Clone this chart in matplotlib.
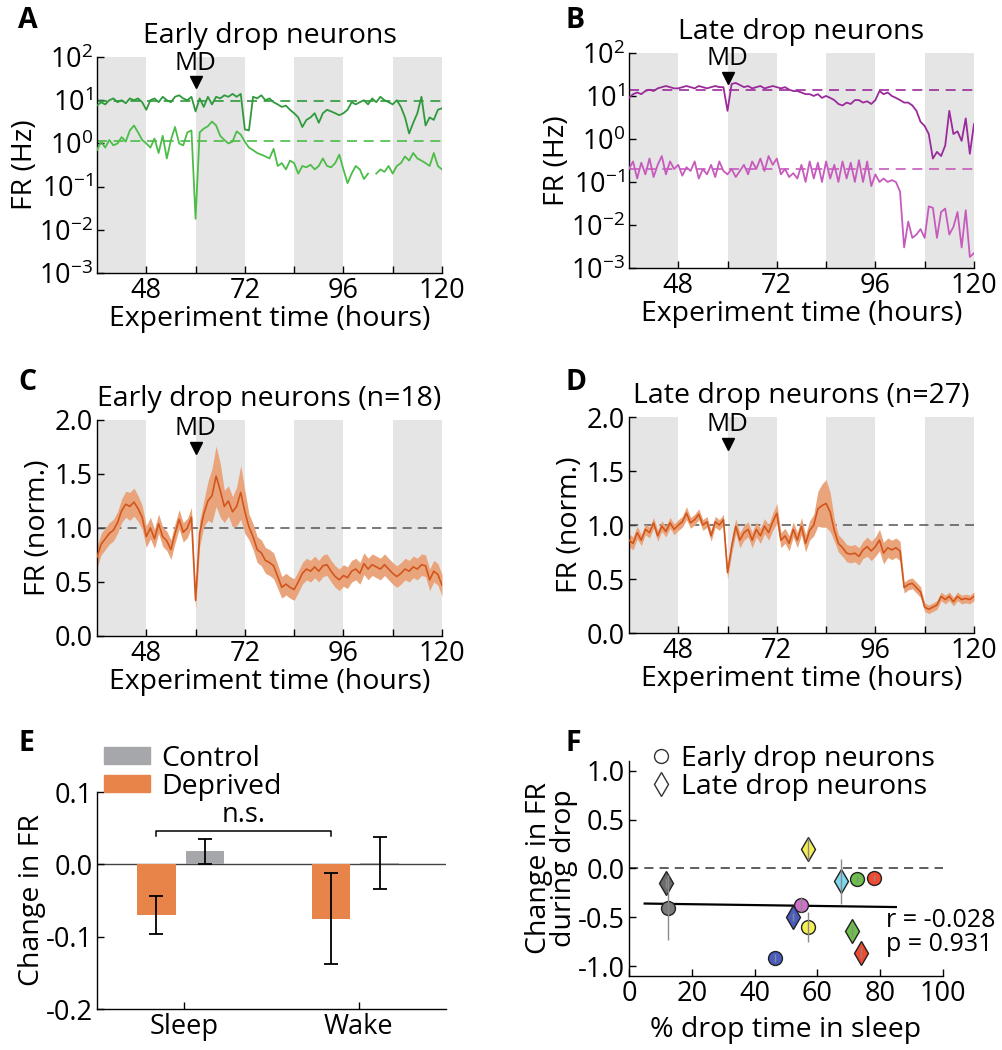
import numpy as np
import matplotlib
matplotlib.use('Agg')
import matplotlib.pyplot as plt
from matplotlib.lines import Line2D
from matplotlib.patches import Patch
from matplotlib.ticker import FormatStrFormatter

plt.rcParams['font.family'] = ['Open Sans', 'DejaVu Sans']
plt.rcParams['mathtext.fontset'] = 'custom'
plt.rcParams['mathtext.rm'] = 'Open Sans'
plt.rcParams['axes.unicode_minus'] = False
plt.rcParams['axes.linewidth'] = 1.0

# 实验时间 (每小时一个点)
hours = np.arange(36, 121)
night_starts = [36, 60, 84, 108]
md_time = 60

# A: 早期下降神经元 (Hz)
early_hi = [7.5, 9, 8, 10, 11, 9, 10, 8.5, 11, 10, 11, 9, 6, 10, 11, 9, 12, 10, 9, 12,
            13, 11, 10, 12, 5.5, 11, 7, 12, 8, 12, 11, 13, 12, 14, 12, 14, 2.1, 2.0, 12, 11,
            13, 10, 11, 9, 8, 7, 7.5, 6, 5, 4, 2.4, 3.5, 4, 5, 3, 5, 6, 5.5, 5, 4.5,
            5, 6, 9, 8, 9, 10, 8, 11, 9, 12, 10, 9, 8, 10, 7, 4, 1.7, 3, 5, 12,
            2.6, 4, 3.5, 6, 6.5]
early_lo = [0.7, 1.1, 0.8, 1.2, 0.9, 1.0, 1.4, 1.1, 2.0, 2.6, 1.8, 1.2, 1.0, 0.8, 1.3, 0.6, 1.5, 0.45, 1.2, 2.4,
            1.0, 0.9, 1.8, 2.0, 0.018, 1.8, 2.2, 2.5, 3.2, 2.6, 1.5, 1.2, 1.0, 1.1, 1.9, 1.6, 1.1, 0.8, 0.7, 0.6,
            0.55, 0.5, 0.45, 0.75, 0.3, 0.35, 0.25, 0.4, 0.35, 0.2, 0.3, 0.28, 0.32, 0.25, 0.3, 0.45, 0.3, 0.28, 0.35, 0.55,
            0.25, 0.12, 0.2, 0.3, 0.25, 0.15, 0.2, np.nan, 0.2, 0.25, 0.22, 0.3, 0.2, 0.3, 0.35, 0.5, 0.4, 0.6, 0.45, 0.4,
            0.35, 0.3, 0.6, 0.3, 0.25]
early_base = [9.4, 1.15]

# B: 晚期下降神经元 (Hz)
late_hi = [9, 11, 12, 11, 13, 14, 13, 15, 16, 17, 16, 15, 15, 16, 17, 16, 15, 17, 16, 15,
           16, 17, 16, 16, 4.5, 19, 20, 18, 16, 17, 15, 16, 17, 15, 16, 17, 16, 15, 16, 14,
           13, 13, 12, 11, 11, 10, 11, 9, 10, 9, 8, 6.5, 6, 7, 6.5, 8, 8, 7, 7.5, 6.5,
           8, 13, 11, 12, 10, 9, 8, 7, 7, 6, 4.5, 2.5, 2.0, 1.3, 0.35, 0.5, 0.4, 0.7, 4.5, 1.3,
           1.5, 0.9, 3.0, 0.45, 2.2]
late_lo = [0.2, 0.3, 0.12, 0.28, 0.15, 0.35, 0.13, 0.25, 0.4, 0.15, 0.3, 0.2, 0.25, 0.14, 0.22, 0.18, 0.3, 0.12, 0.2, 0.15,
           0.25, 0.13, 0.3, 0.18, 0.15, 0.2, 0.13, 0.18, 0.25, 0.15, 0.3, 0.2, 0.35, 0.18, 0.4, 0.25, 0.35, 0.15, 0.2, 0.13,
           0.16, 0.12, 0.25, 0.1, 0.3, 0.12, 0.28, 0.1, 0.3, 0.12, 0.25, 0.1, 0.3, 0.12, 0.28, 0.1, 0.32, 0.1, 0.3, 0.08,
           0.15, 0.1, 0.12, 0.1, 0.11, 0.1, 0.06, 0.003, 0.012, 0.005, 0.006, 0.008, 0.005, 0.027, 0.025, 0.005, 0.02, 0.024, 0.006, 0.009,
           0.02, 0.003, 0.022, 0.0018, 0.0022]
late_base = [14, 0.195]

# C: 早期下降 平均值 ± SEM
early_mean = [0.73, 0.85, 0.90, 0.95, 0.98, 1.05, 1.16, 1.22, 1.20, 1.24, 1.18, 1.10, 0.92, 1.00, 0.90, 1.04, 0.92, 0.88, 0.80, 0.95,
              1.08, 0.96, 1.00, 1.10, 0.33, 0.95, 1.13, 1.25, 1.30, 1.48, 1.35, 1.20, 1.25, 1.15, 1.20, 1.33, 1.15, 1.01, 0.92, 0.80,
              0.77, 0.70, 0.68, 0.65, 0.55, 0.45, 0.48, 0.45, 0.43, 0.50, 0.58, 0.62, 0.60, 0.64, 0.60, 0.65, 0.66, 0.60, 0.55, 0.52,
              0.56, 0.54, 0.60, 0.62, 0.58, 0.67, 0.62, 0.66, 0.64, 0.62, 0.66, 0.62, 0.58, 0.55, 0.58, 0.62, 0.60, 0.64, 0.62, 0.66,
              0.65, 0.52, 0.60, 0.57, 0.47]
early_sem = [0.10, 0.10, 0.10, 0.10, 0.10, 0.10, 0.11, 0.12, 0.13, 0.13, 0.12, 0.11, 0.10, 0.10, 0.09, 0.09, 0.09, 0.09, 0.09, 0.09,
             0.09, 0.09, 0.09, 0.09, 0.08, 0.12, 0.12, 0.18, 0.25, 0.28, 0.25, 0.15, 0.14, 0.14, 0.18, 0.25, 0.20, 0.12, 0.12, 0.12,
             0.12, 0.12, 0.12, 0.12, 0.11, 0.10, 0.10, 0.10, 0.10, 0.10, 0.10, 0.10, 0.10, 0.10, 0.10, 0.10, 0.10, 0.10, 0.10, 0.10,
             0.10, 0.10, 0.10, 0.10, 0.10, 0.10, 0.10, 0.10, 0.10, 0.10, 0.10, 0.10, 0.10, 0.10, 0.10, 0.10, 0.10, 0.10, 0.10, 0.10,
             0.10, 0.10, 0.10, 0.10, 0.10]

# D: 晚期下降 平均值 ± SEM
late_mean = [0.86, 0.83, 0.93, 0.86, 0.96, 0.93, 1.02, 0.90, 0.99, 0.94, 1.02, 0.96, 1.00, 1.03, 1.11, 1.02, 1.05, 1.10, 1.00, 1.03,
             0.90, 1.03, 1.00, 1.05, 0.56, 0.80, 0.99, 0.86, 0.93, 0.96, 0.86, 0.96, 0.90, 0.99, 0.93, 1.03, 1.11, 0.86, 0.90, 0.83,
             0.96, 0.86, 0.99, 0.83, 0.95, 1.00, 1.15, 1.18, 1.20, 1.12, 0.95, 0.83, 0.79, 0.74, 0.73, 0.74, 0.71, 0.77, 0.80, 0.76,
             0.80, 0.86, 0.74, 0.79, 0.77, 0.79, 0.76, 0.42, 0.45, 0.46, 0.42, 0.38, 0.24, 0.22, 0.24, 0.26, 0.34, 0.31, 0.34, 0.29,
             0.34, 0.31, 0.32, 0.31, 0.34]
late_sem = [0.06, 0.06, 0.06, 0.05, 0.05, 0.05, 0.05, 0.05, 0.05, 0.05, 0.05, 0.05, 0.05, 0.05, 0.06, 0.05, 0.05, 0.05, 0.05, 0.05,
            0.05, 0.05, 0.05, 0.05, 0.06, 0.07, 0.07, 0.07, 0.07, 0.07, 0.07, 0.07, 0.07, 0.07, 0.07, 0.08, 0.09, 0.07, 0.07, 0.07,
            0.07, 0.07, 0.08, 0.08, 0.09, 0.10, 0.16, 0.20, 0.22, 0.18, 0.10, 0.08, 0.08, 0.08, 0.08, 0.08, 0.08, 0.08, 0.09, 0.09,
            0.09, 0.10, 0.10, 0.09, 0.09, 0.09, 0.09, 0.05, 0.05, 0.05, 0.05, 0.05, 0.04, 0.04, 0.04, 0.04, 0.04, 0.04, 0.04, 0.04,
            0.04, 0.04, 0.04, 0.04, 0.04]

# E: 睡眠/清醒 中的FR变化
states = ['Sleep', 'Wake']
deprived_mean = [-0.070, -0.075]
deprived_err = [0.026, 0.063]
control_mean = [0.018, 0.002]
control_err = [0.017, 0.036]

# F: 每个动物
early_x = [12.4, 54.9, 57.0, 46.5, 72.7, 77.9]
early_y = [-0.40, -0.37, -0.60, -0.915, -0.11, -0.10]
early_e = [0.33, 0.08, 0.15, 0.04, 0.03, 0.03]
early_c = ['#7a7a7a', '#d070c8', '#f4ee55', '#4a5cc0', '#6cc04a', '#f04a30']
late_x = [11.9, 52.2, 57.0, 67.6, 71.0, 74.0]
late_y = [-0.15, -0.50, 0.20, -0.13, -0.64, -0.86]
late_e = [0.05, 0.04, 0.11, 0.23, 0.06, 0.06]
late_c = ['#6a6a6a', '#4a5cc0', '#f4ee55', '#7dd8ee', '#6cc04a', '#f04a30']

FS = 19.5   # 刻度
LS = 20.5   # 轴标签/标题
GRAY_BAND = '#e5e5e5'

fig = plt.figure(figsize=(10.02, 10.5), dpi=100)


def time_axis(ax):
    for s in night_starts:
        ax.axvspan(s, s + 12, color=GRAY_BAND, lw=0, zorder=0)
    ax.set_xlim(36, 120)
    ax.set_xticks([48, 60, 72, 84, 96, 108, 120])
    ax.set_xticklabels(['48', '', '72', '', '96', '', '120'])
    ax.spines['top'].set_visible(False)
    ax.spines['right'].set_visible(False)
    ax.tick_params(direction='in', labelsize=FS, length=5, width=1, pad=3)
    ax.tick_params(which='minor', direction='in', length=3)
    ax.set_xlabel('Experiment time (hours)', fontsize=LS, labelpad=0)


def md_mark(ax, ytext, ytri):
    tr = ax.get_xaxis_transform()
    ax.text(md_time, ytext, 'MD', transform=tr, ha='center', va='center', fontsize=FS - 1)
    ax.plot([md_time], [ytri], marker='v', color='k', ms=9, transform=tr, clip_on=False)


def log_axis(ax):
    ax.set_yscale('log')
    ax.set_ylim(1e-3, 1e2)
    ax.set_yticks([1e-3, 1e-2, 1e-1, 1e0, 1e1, 1e2])
    ax.set_yticklabels([r'$10^{-3}$', r'$10^{-2}$', r'$10^{-1}$', r'$10^{0}$', r'$10^{1}$', r'$10^{2}$'])
    ax.set_ylabel('FR (Hz)', fontsize=LS, labelpad=0)


def norm_axis(ax):
    ax.set_ylim(0, 2)
    ax.set_yticks([0, 0.5, 1.0, 1.5, 2.0])
    ax.yaxis.set_major_formatter(FormatStrFormatter('%.1f'))
    ax.set_ylabel('FR (norm.)', fontsize=LS, labelpad=2)
    ax.axhline(1.0, color='#555555', lw=1.1, ls=(0, (6, 4)), zorder=2)


# ---- A
axA = fig.add_axes([0.0968, 0.740, 0.3443, 0.2057])
time_axis(axA)
log_axis(axA)
axA.plot(hours, early_hi, color='#2f9a3c', lw=1.3, zorder=3)
axA.plot(hours, early_lo, color='#4cbd48', lw=1.3, zorder=3)
axA.axhline(early_base[0], color='#2f9a3c', lw=1.2, ls=(0, (6, 4)), zorder=2)
axA.axhline(early_base[1], color='#4cbd48', lw=1.2, ls=(0, (6, 4)), zorder=2)
axA.set_title('Early drop neurons', fontsize=LS, pad=10)
md_mark(axA, 0.97, 0.885)

# ---- B
axB = fig.add_axes([0.6277, 0.7448, 0.3443, 0.2048])
time_axis(axB)
log_axis(axB)
axB.plot(hours, late_hi, color='#9b2a9b', lw=1.3, zorder=3)
axB.plot(hours, late_lo, color='#c75bbd', lw=1.3, zorder=3)
axB.axhline(late_base[0], color='#9b2a9b', lw=1.2, ls=(0, (6, 4)), zorder=2)
axB.axhline(late_base[1], color='#c75bbd', lw=1.2, ls=(0, (6, 4)), zorder=2)
axB.set_title('Late drop neurons', fontsize=LS, pad=10)
md_mark(axB, 0.975, 0.885)

# ---- C
axC = fig.add_axes([0.0968, 0.3943, 0.3443, 0.2057])
time_axis(axC)
norm_axis(axC)
m = np.array(early_mean)
s = np.array(early_sem)
axC.fill_between(hours, m - s, m + s, color='#eaa47c', lw=0, zorder=2)
axC.plot(hours, m, color='#d2561c', lw=1.2, zorder=3)
axC.set_title('Early drop neurons (n=18)', fontsize=LS, pad=10)
md_mark(axC, 0.96, 0.87)

# ---- D
axD = fig.add_axes([0.6277, 0.3971, 0.3443, 0.2057])
time_axis(axD)
norm_axis(axD)
m = np.array(late_mean)
s = np.array(late_sem)
axD.fill_between(hours, m - s, m + s, color='#eaa47c', lw=0, zorder=2)
axD.plot(hours, m, color='#d2561c', lw=1.2, zorder=3)
axD.set_title('Late drop neurons (n=27)', fontsize=LS, pad=10)
md_mark(axD, 0.965, 0.877)

# ---- E
axE = fig.add_axes([0.0968, 0.039, 0.3483, 0.2067])
pos = np.array([1, 2])
axE.bar(pos - 0.16, deprived_mean, width=0.22, color='#e8844a', zorder=2)
axE.bar(pos + 0.12, control_mean, width=0.22, color='#a6a7ab', zorder=2)
axE.errorbar(pos - 0.16, deprived_mean, yerr=deprived_err, fmt='none', ecolor='k',
             elinewidth=1.3, capsize=5, capthick=1.3, zorder=3)
axE.errorbar(pos + 0.12, control_mean, yerr=control_err, fmt='none', ecolor='k',
             elinewidth=1.3, capsize=5, capthick=1.3, zorder=3)
axE.axhline(0, color='#444444', lw=1.0, zorder=1)
axE.plot([pos[0] - 0.16, pos[0] - 0.16, pos[1] - 0.16, pos[1] - 0.16],
         [0.039, 0.046, 0.046, 0.039], color='k', lw=1.1)
axE.text((pos[0] + pos[1]) / 2 - 0.16, 0.049, 'n.s.', ha='center', va='bottom', fontsize=FS)
axE.set_xlim(0.5, 2.5)
axE.set_ylim(-0.2, 0.1)
axE.set_xticks(pos)
axE.set_xticklabels(states)
axE.set_yticks([-0.2, -0.1, 0.0, 0.1])
axE.yaxis.set_major_formatter(FormatStrFormatter('%.1f'))
axE.spines['top'].set_visible(False)
axE.spines['right'].set_visible(False)
axE.tick_params(direction='in', labelsize=FS, length=5, width=1, pad=3)
axE.set_ylabel('Change in FR', fontsize=LS, labelpad=0)
axE.legend(handles=[Patch(color='#a6a7ab', label='Control'), Patch(color='#e8844a', label='Deprived')],
           loc='lower left', bbox_to_anchor=(0.02, 0.96), frameon=False, fontsize=LS,
           handlelength=1.6, handleheight=0.55, handletextpad=0.4, labelspacing=0.0, borderaxespad=0,
           borderpad=0.0)

# ---- F
axF = fig.add_axes([0.6277, 0.0705, 0.3134, 0.2048])
axF.axhline(0, color='#333333', lw=1.1, ls=(0, (6, 4)), zorder=1)
all_x = np.array(early_x + late_x)
all_y = np.array(early_y + late_y)
k, b = np.polyfit(all_x, all_y, 1)
fx = np.array([5, 85])
axF.plot(fx, k * fx + b, color='k', lw=1.6, zorder=2)
for x, y, c in zip(early_x, early_y, early_c):
    axF.plot(x, y, marker='o', ms=10, mfc=c, mec='#222222', mew=1.0, zorder=3)
for x, y, c in zip(late_x, late_y, late_c):
    axF.plot(x, y, marker='d', ms=12, mfc=c, mec='#222222', mew=1.0, zorder=3)
axF.errorbar(early_x, early_y, yerr=early_e, fmt='none', ecolor='#8a8a8a', elinewidth=1.0, zorder=4)
axF.errorbar(late_x, late_y, yerr=late_e, fmt='none', ecolor='#8a8a8a', elinewidth=1.0, zorder=4)
axF.text(82, -0.66, 'r = -0.028\np = 0.931', ha='left', va='center', fontsize=FS - 1.5,
         linespacing=0.95, clip_on=False)
axF.set_xlim(0, 100)
axF.set_ylim(-1.1, 1.1)
axF.set_xticks([0, 20, 40, 60, 80, 100])
axF.set_yticks([-1.0, -0.5, 0.0, 0.5, 1.0])
axF.yaxis.set_major_formatter(FormatStrFormatter('%.1f'))
axF.spines['top'].set_visible(False)
axF.spines['right'].set_visible(False)
axF.tick_params(direction='in', labelsize=FS, length=5, width=1, pad=3)
axF.set_xlabel('% drop time in sleep', fontsize=LS, labelpad=6)
axF.set_ylabel('Change in FR\nduring drop', fontsize=LS, labelpad=0, linespacing=0.85)
axF.legend(handles=[Line2D([], [], ls='none', marker='o', ms=10, mfc='white', mec='#333333', label='Early drop neurons'),
                    Line2D([], [], ls='none', marker='d', ms=12, mfc='white', mec='#333333', label='Late drop neurons')],
           loc='center left', bbox_to_anchor=(0.02, 0.945), frameon=False, fontsize=LS,
           handletextpad=0.2, labelspacing=0.0, borderaxespad=0, handlelength=1.0)

# 面板字母
for lab, x, y in [('A', 0.018, 0.98), ('B', 0.564, 0.98), ('C', 0.018, 0.636), ('D', 0.564, 0.636),
                  ('E', 0.018, 0.292), ('F', 0.564, 0.292)]:
    fig.text(x, y, lab, fontsize=LS, fontweight='bold', ha='left', va='center')

fig.savefig('out.png', dpi=100)
